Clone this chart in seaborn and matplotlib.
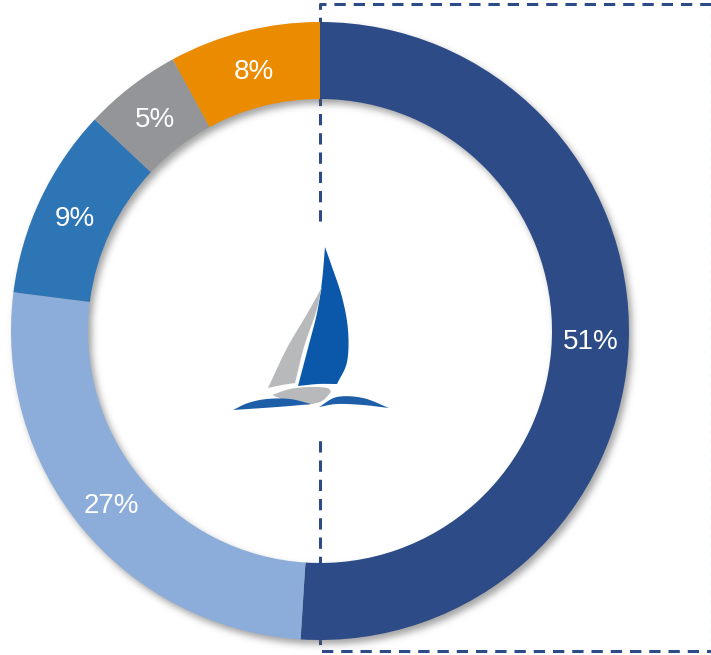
import numpy as np
import matplotlib
matplotlib.use("Agg")
import matplotlib.pyplot as plt
from matplotlib.patches import Polygon, Rectangle
import seaborn as sns

# ---------------- data ----------------
categories = ["A", "B", "C", "D", "E"]
shares = [51.0, 26.0, 10.0, 5.1, 7.9]          # slice sizes as drawn
pct_labels = ["51%", "27%", "9%", "5%", "8%"]   # labels as printed
colors = ["#2C4B87", "#8CADDA", "#2E75B6", "#939598", "#EB8C00"]

sns.set_style("white")
plt.rcParams["font.family"] = ["Liberation Sans", "DejaVu Sans"]

W, H = 711, 655
fig = plt.figure(figsize=(W / 100, H / 100), dpi=100)
ax = fig.add_axes([0, 0, 1, 1])

def P(x, y):
    return (x, H - y)

cx, cy = 320, 331
R_out, R_in = 309, 232

# ---------- dashed frame (behind donut) ----------
dash_col = "#2C4B87"
ax.plot([711, 320, 320, 711], [H - 4, H - 4, H - 651, H - 651],
        color=dash_col, lw=2.2, dashes=(3.7, 2.6), zorder=1,
        solid_capstyle="butt", dash_capstyle="butt")
ax.plot([710.5, 710.5], [H - 4, H - 651], color="#9FB0CF", lw=0.8,
        dashes=(5, 3.5), zorder=1)

# ---------- shadow (blurred offset ring) ----------
yy, xx = np.mgrid[0:H, 0:W]
sx, sy = cx + 3, cy + 4
rr = np.hypot(xx - sx, yy - sy)
mask = ((rr <= R_out) & (rr >= R_in)).astype(float)
sig = 3.5
k = np.arange(-12, 13)
ker = np.exp(-k ** 2 / (2 * sig ** 2))
ker /= ker.sum()
blur = np.apply_along_axis(lambda r: np.convolve(r, ker, mode="same"), 1, mask)
blur = np.apply_along_axis(lambda c: np.convolve(c, ker, mode="same"), 0, blur)
rgba = np.zeros((H, W, 4))
rgba[..., :3] = 0.35
rgba[..., 3] = blur * 0.55
ax.imshow(rgba, extent=(0, W, 0, H), origin="upper", zorder=2,
          interpolation="bilinear")

# ---------- donut ----------
lab_iter = iter(pct_labels)
wedges, texts, autotexts = ax.pie(
    shares, colors=colors, startangle=90, counterclock=False,
    center=P(cx, cy), radius=R_out,
    wedgeprops=dict(width=R_out - R_in, linewidth=0, zorder=3),
    autopct=lambda p: next(lab_iter), pctdistance=(R_out + R_in) / 2 / R_out,
    textprops=dict(color="white", fontsize=20),
)
for t in autotexts:
    t.set_zorder(5)
    x, y = t.get_position()
    t.set_position((x, y - 3))

# ---------- logo ----------
ax.add_patch(Rectangle(P(228, 438), 170, 216, facecolor="white",
                       edgecolor="none", zorder=2.5))

def catmull(pts, n=20):
    pts = np.asarray(pts, float)
    ext = np.vstack([2 * pts[0] - pts[1], pts, 2 * pts[-1] - pts[-2]])
    out = []
    for i in range(1, len(ext) - 2):
        p0, p1, p2, p3 = ext[i - 1], ext[i], ext[i + 1], ext[i + 2]
        for t in np.linspace(0, 1, n, endpoint=False):
            t2, t3 = t * t, t * t * t
            out.append(0.5 * ((2 * p1) + (-p0 + p2) * t
                              + (2 * p0 - 5 * p1 + 4 * p2 - p3) * t2
                              + (-p0 + 3 * p1 - 3 * p2 + p3) * t3))
    out.append(pts[-1])
    return np.array(out)

def shape(edges, color):
    poly = np.vstack([catmull(e) for e in edges])
    poly[:, 1] = H - poly[:, 1]
    ax.add_patch(Polygon(poly, closed=True, facecolor=color,
                         edgecolor="none", zorder=4))

blue = "#0B58AA"
gray = "#B8B9BB"
wave = "#1C5EA8"
# blue main sail
shape([[(325, 247), (331, 264), (342, 297), (348, 330), (347, 362), (337, 384)],
       [(337, 384), (318, 384), (298, 386)],
       [(298, 386), (308, 348), (317, 313), (322, 281), (325, 247)]], blue)
# grey jib
shape([[(322, 287), (316, 312), (304, 347), (295, 383)],
       [(295, 383), (282, 385), (268, 388)],
       [(268, 388), (287, 348), (307, 314), (322, 287)]], gray)
# grey hull
shape([[(272, 395), (290, 389), (310, 387), (327, 388), (331, 392)],
       [(331, 392), (322, 401), (308, 405)],
       [(308, 405), (290, 402), (272, 395)]], gray)
# left wave
shape([[(233, 410), (248, 403), (267, 399), (290, 399), (311, 404)],
       [(311, 404), (290, 406), (263, 408), (233, 410)]], wave)
# right wave
shape([[(319, 407), (337, 397), (363, 398), (389, 408)],
       [(389, 408), (363, 405), (337, 404), (319, 407)]], wave)

ax.set_xlim(0, W)
ax.set_ylim(0, H)
ax.set_aspect("equal")
ax.axis("off")
fig.savefig("out.png", dpi=100, facecolor="white")
